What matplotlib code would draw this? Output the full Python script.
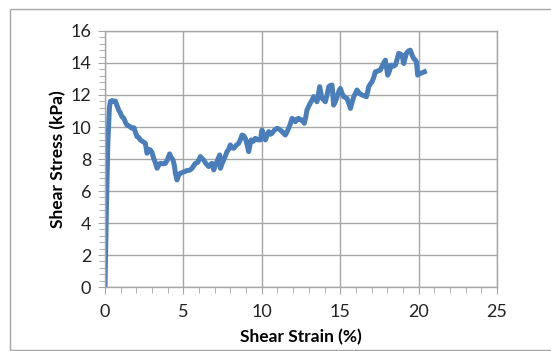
import matplotlib.pyplot as plt
from matplotlib.ticker import MultipleLocator
from matplotlib.patches import Rectangle

# shear strain (%) and shear stress (kPa)
strain = [0.0, 0.08, 0.18, 0.28, 0.34, 0.45, 0.55, 0.66, 0.76, 0.87, 0.97, 1.08,
          1.2, 1.30, 1.40, 1.55, 1.72, 1.85, 1.93, 2.04, 2.15, 2.25, 2.40, 2.57,
          2.68, 2.78, 2.89, 3.00, 3.10, 3.20, 3.32, 3.42, 3.53, 3.70, 3.85,
          3.98, 4.12, 4.22, 4.34, 4.42, 4.49, 4.59, 4.70, 4.80, 5.00, 5.23,
          5.40, 5.55, 5.76, 5.92, 6.08, 6.18, 6.29, 6.45, 6.61, 6.72, 6.82,
          6.93, 7.04, 7.14, 7.31, 7.36, 7.46, 7.57, 7.68, 7.78, 7.88, 7.99,
          8.10, 8.21, 8.36, 8.52, 8.63, 8.74, 8.85, 8.95, 9.06, 9.16, 9.31,
          9.45, 9.59, 9.75, 9.91, 10.01, 10.12, 10.23, 10.34, 10.44, 10.55,
          10.65, 10.80, 10.97, 11.13, 11.29, 11.40, 11.50, 11.61, 11.71, 11.82,
          11.93, 12.04, 12.14, 12.25, 12.35, 12.46, 12.56, 12.71, 12.80, 12.88,
          13.04, 13.20, 13.31, 13.41, 13.52, 13.60, 13.69, 13.77, 13.84, 13.95,
          14.05, 14.16, 14.27, 14.38, 14.48, 14.53, 14.58, 14.70, 14.80, 14.90,
          15.01, 15.12, 15.22, 15.33, 15.43, 15.54, 15.65, 15.75, 15.86, 15.97,
          16.07, 16.23, 16.39, 16.53, 16.67, 16.75, 16.82, 16.93, 17.03, 17.14,
          17.24, 17.40, 17.56, 17.72, 17.88, 17.96, 18.03, 18.14, 18.24, 18.38,
          18.52, 18.62, 18.73, 18.84, 18.94, 19.00, 19.05, 19.14, 19.22, 19.35,
          19.47, 19.58, 19.69, 19.78, 19.86, 19.90, 19.94, 20.02, 20.11, 20.24,
          20.37]
stress = [0.0, 4.5, 9.0, 11.2, 11.6, 11.65, 11.6, 11.62, 11.35, 11.06, 10.9, 10.64,
          10.55, 10.3, 10.12, 10.05, 9.92, 9.95, 9.7, 9.4, 9.35, 9.19, 9.1, 8.98,
          8.36, 8.6, 8.57, 8.4, 8.05, 7.8, 7.42, 7.6, 7.73, 7.7, 7.73,
          7.95, 8.32, 8.1, 7.94, 7.6, 7.11, 6.69, 7.0, 7.11, 7.18, 7.28,
          7.3, 7.42, 7.73, 7.8, 8.15, 8.05, 7.94, 7.7, 7.53, 7.65, 7.73,
          7.32, 7.6, 7.84, 8.25, 7.42, 7.7, 7.94, 8.2, 8.46, 8.6, 8.88,
          8.7, 8.67, 8.85, 8.98, 9.2, 9.5, 9.45, 9.29, 8.9, 8.46, 9.19,
          9.1, 9.29, 9.2, 9.19, 9.81, 9.5, 9.19, 9.5, 9.71, 9.55,
          9.6, 9.8, 9.92, 9.85, 9.71, 9.6, 9.5, 9.7, 9.92, 10.2,
          10.54, 10.45, 10.33, 10.5, 10.54, 10.45, 10.44, 10.23, 10.6, 11.06,
          11.4, 11.68, 11.9, 11.79, 11.58, 12.0, 12.52, 12.1, 11.79, 11.7,
          11.58, 12.0, 12.52, 12.6, 12.62, 12.0, 11.37, 11.6, 11.89, 12.2,
          12.41, 12.1, 11.89, 11.85, 11.79, 11.5, 11.16, 11.5, 11.89, 12.1,
          12.31, 12.1, 12.0, 11.95, 11.89, 12.2, 12.52, 12.7, 12.83, 13.1,
          13.45, 13.5, 13.56, 13.9, 14.18, 13.7, 13.24, 13.5, 13.87, 13.8,
          13.87, 14.2, 14.6, 14.55, 14.49, 14.2, 13.97, 14.3, 14.6, 14.75,
          14.8, 14.5, 14.28, 14.2, 14.07, 13.7, 13.24, 13.3, 13.35, 13.4,
          13.45]

fig = plt.figure(figsize=(5.51, 3.51), dpi=100)
plt.rcParams['font.family'] = ['Lato', 'DejaVu Sans']

# chart area border
fig.patches.append(Rectangle((10 / 551, 1 - 350 / 351), 1.0, 341 / 351,
                             transform=fig.transFigure, fill=False,
                             edgecolor='#a6a6a6', linewidth=1.0))

ax = fig.add_axes([0.1906, 0.1823, 0.7114, 0.7294])
ax.plot(strain, stress, color='#4a7ebb', linewidth=3.6, solid_joinstyle='round')

ax.set_xlim(0, 25)
ax.set_ylim(0, 16)
ax.xaxis.set_major_locator(MultipleLocator(5))
ax.xaxis.set_minor_locator(MultipleLocator(1))
ax.yaxis.set_major_locator(MultipleLocator(2))
ax.yaxis.set_minor_locator(MultipleLocator(0.4))
ax.grid(True, which='major', color='#a6a6a6', linewidth=1.0)
for s in ax.spines.values():
    s.set_color('#a6a6a6')
    s.set_linewidth(1.0)
ax.tick_params(which='both', direction='out', color='#a6a6a6', labelsize=13,
               labelcolor='#222222')
ax.tick_params(which='major', length=5)
ax.tick_params(which='minor', length=4)
ax.tick_params(axis='x', pad=7)
ax.tick_params(axis='y', pad=5)

ax.set_xlabel('Shear Strain (%)', fontsize=12.5, fontweight='bold', labelpad=7)
ax.set_ylabel('Shear Stress (kPa)', fontsize=12.5, fontweight='bold', labelpad=3)

plt.savefig('out.png', dpi=100)
